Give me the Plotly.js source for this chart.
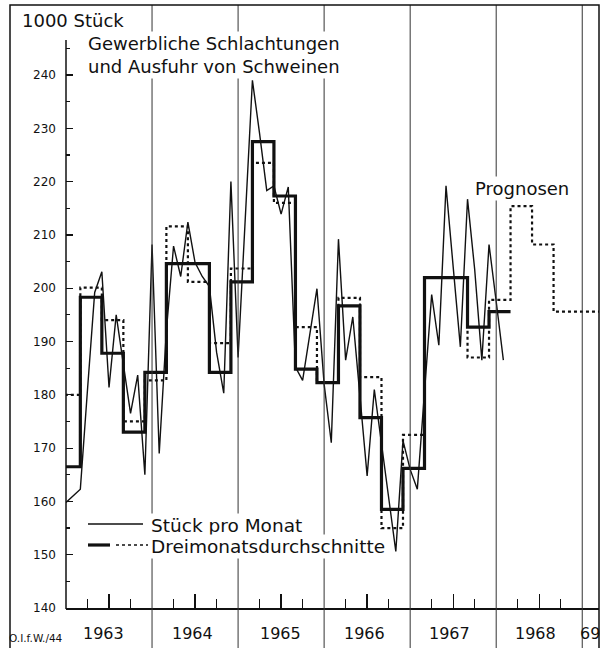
<!DOCTYPE html>
<html><head><meta charset="utf-8">
<script src="https://cdn.plot.ly/plotly-3.0.1.min.js"></script>
<style>html,body{margin:0;padding:0;background:#fff}#chart{width:609px;height:648px}</style>
</head><body><div id="chart"></div>
<script>
// Stück pro Monat (1000 Stück), Jan 1963 .. Feb 1968
const monthly = [159.8,161,162.3,181,199.2,203.1,181.4,195,186,176.5,183.7,165,
  208.2,169,192,207.9,202.2,212.4,204.8,202.2,200.3,188,180.3,220,
  187,213,239,229,218.3,219.2,213.9,219,185.2,182.7,191,199.9,
  182,171,209.2,186.5,194.6,180,164.8,181,171,161,150.6,171.4,
  166,162.3,181,198.8,189.3,219.2,204,189,216.7,203.5,186.5,208.2,
  197.5,186.5];
// Dreimonatsdurchschnitte (thick)
const quarterly = [166.5,198.3,187.8,173,184.2,204.6,204.6,184.2,201.2,227.5,217.3,184.8,
  182.3,196.7,175.7,158.5,166.2,202,202,192.7,195.6];
// earlier estimates (dotted)
const estimates = [180,200.1,194,175,182.7,211.6,201.2,189.7,203.7,223.5,216,192.7,
  182.3,198.2,183.3,155,172.5,202,202,187,197.8];
// Prognosen (dotted)
const prognosen = [215.4,208.2,195.6];
const years = ['1963','1964','1965','1966','1967','1968','69'];
const yTicks = [140,150,160,170,180,190,200,210,220,230,240];

const mx = monthly.map((v,i)=>i);
const qx = quarterly.map((v,i)=>3*i-1); qx.push(3*quarterly.length-1);
const qy = quarterly.slice(); qy.push(quarterly[quarterly.length-1]);
const allEst = estimates.concat(prognosen);
const ex = allEst.map((v,i)=>3*i-1); ex.push(76);
const ey = allEst.slice(); ey.push(allEst[allEst.length-1]);

const black='#111';
const traces = [
  {x:ex,y:ey,mode:'lines',line:{shape:'hv',color:black,width:2.2,dash:'dot'},hoverinfo:'skip'},
  {x:qx,y:qy,mode:'lines',line:{shape:'hv',color:black,width:3.2},hoverinfo:'skip'},
  {x:mx,y:monthly,mode:'lines',line:{color:black,width:1.4},hoverinfo:'skip'}
];
const F = 'DejaVu Sans, sans-serif';
const L=66, R=599, T=6, B=608;
const px = v=>(v-L)/(R-L), py = v=>(B-v)/(B-T);
const shapes = [];
[12,24,36,48,60,72].forEach(v=>shapes.push({type:'line',xref:'x',yref:'paper',x0:v,x1:v,y0:py(650),y1:py(5),line:{color:'#333',width:1}}));
shapes.push({type:'rect',xref:'paper',yref:'paper',x0:px(10),x1:px(599),y0:py(660),y1:py(5),line:{color:black,width:1.5}});
// y axis line (starts below the unit label)
shapes.push({type:'line',xref:'paper',yref:'paper',x0:0,x1:0,y0:py(609),y1:py(40),line:{color:black,width:1.5}});
const ann = [];
const yearPos=[5.2,17.7,29.85,41.7,53.55,65.55,73.1];
years.forEach((t,i)=>ann.push({x:yearPos[i],xref:'x',y:py(633),yref:'paper',yanchor:'middle',text:t,showarrow:false,font:{family:F,size:16,color:black}}));
ann.push({x:px(7),xref:'paper',y:py(638),yref:'paper',xanchor:'left',yanchor:'middle',text:'O.I.f.W./44',showarrow:false,font:{family:F,size:10.5,color:black}});
const W='#ffffff';
ann.push({x:px(20),xref:'paper',y:py(20),yref:'paper',xanchor:'left',yanchor:'middle',text:'1000 Stück',showarrow:false,bgcolor:W,font:{family:F,size:18,color:black}});
ann.push({x:px(86),xref:'paper',y:py(55.5),yref:'paper',xanchor:'left',yanchor:'middle',align:'left',text:'Gewerbliche Schlachtungen<br>und Ausfuhr von Schweinen',showarrow:false,bgcolor:W,font:{family:F,size:18,color:black}});
ann.push({x:px(473),xref:'paper',y:py(188),yref:'paper',xanchor:'left',yanchor:'middle',text:'Prognosen',showarrow:false,bgcolor:W,font:{family:F,size:18,color:black}});
ann.push({x:px(149),xref:'paper',y:py(525),yref:'paper',xanchor:'left',yanchor:'middle',text:'Stück pro Monat',showarrow:false,bgcolor:W,font:{family:F,size:18.5,color:black}});
ann.push({x:px(149),xref:'paper',y:py(546),yref:'paper',xanchor:'left',yanchor:'middle',text:'Dreimonatsdurchschnitte',showarrow:false,bgcolor:W,font:{family:F,size:18.5,color:black}});
// legend samples
shapes.push({type:'line',xref:'paper',yref:'paper',x0:px(88),x1:px(143),y0:py(524),y1:py(524),line:{color:black,width:1.4}});
shapes.push({type:'line',xref:'paper',yref:'paper',x0:px(88),x1:px(110),y0:py(545),y1:py(545),line:{color:black,width:3.2}});
shapes.push({type:'line',xref:'paper',yref:'paper',x0:px(116),x1:px(148),y0:py(545),y1:py(545),line:{color:black,width:1.6,dash:'dot'}});

const layout = {
  width:609,height:648,margin:{l:L,r:609-R,t:T,b:648-B},
  paper_bgcolor:'#fff',plot_bgcolor:'#fff',showlegend:false,
  xaxis:{range:[0,(R-L)/7.17],showgrid:false,zeroline:false,showline:true,linecolor:black,linewidth:1.5,
    tickmode:'array',tickvals:[6,18,30,42,54,66],ticktext:['','','','','',''],ticks:'inside',ticklen:14,tickcolor:black,tickwidth:1.3,
    minor:{tickmode:'array',tickvals:[3,9,15,21,27,33,39,45,51,57,63,69],ticks:'inside',ticklen:9,tickcolor:black,tickwidth:1.3}},
  yaxis:{range:[140,140+(B-T)/5.33],showgrid:false,zeroline:false,showline:false,
    tickmode:'array',tickvals:yTicks,ticks:'inside',ticklen:7,tickcolor:black,tickwidth:1.2,
    tickfont:{family:F,size:12,color:black},ticklabelstandoff:9,
    minor:{dtick:5,ticks:'inside',ticklen:4,tickcolor:black}},
  shapes:shapes,annotations:ann
};
Plotly.newPlot('chart',traces,layout,{staticPlot:true});
</script></body></html>
